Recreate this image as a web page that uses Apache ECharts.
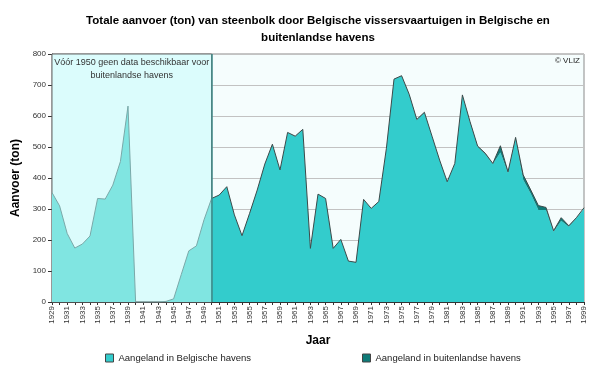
<!DOCTYPE html>
<html><head><meta charset="utf-8">
<script src="https://cdn.jsdelivr.net/npm/echarts@6/dist/echarts.min.js"></script>
<style>html,body{margin:0;padding:0;background:#fff}#c{width:600px;height:368px}</style>
</head><body><div id="c"></div>
<script>
const years = ['1929','1930','1931','1932','1933','1934','1935','1936','1937','1938','1939','1940','1941','1942','1943','1944','1945','1946','1947','1948','1949','1950','1951','1952','1953','1954','1955','1956','1957','1958','1959','1960','1961','1962','1963','1964','1965','1966','1967','1968','1969','1970','1971','1972','1973','1974','1975','1976','1977','1978','1979','1980','1981','1982','1983','1984','1985','1986','1987','1988','1989','1990','1991','1992','1993','1994','1995','1996','1997','1998','1999'];
// Aangeland in Belgische havens (ton), 1929-1999
const belgian = [353,310,221,174,187,213,334,332,377,453,632,0,0,0,0,2,10,88,165,181,265,334,345,372,281,214,286,361,445,507,426,547,533,557,173,348,332,173,202,132,128,331,302,324,496,719,728,668,587,610,535,458,388,447,666,580,501,477,445,482,417,526,394,349,297,297,227,262,243,270,302];
// Aangeland in buitenlandse havens (ton), 1950-1999 (no data before 1950)
const foreignYears = years.slice(21);
const foreign = [0,0,0,0,0,0,0,0,2,0,0,2,0,0,0,2,0,0,0,0,0,0,0,0,0,2,2,2,2,0,0,0,0,2,2,2,3,2,22,3,5,16,12,14,8,3,10,3,2,2];
const yTicks = [0,100,200,300,400,500,600,700,800];
const splitYear = '1950';
const noteText = 'Vóór 1950 geen data beschikbaar voor\nbuitenlandse havens';
const nameBE = 'Aangeland in Belgische havens';
const nameFO = 'Aangeland in buitenlandse havens';

const splitIdx = years.indexOf(splitYear);
const bePre = belgian.map((v,i)=> i<=splitIdx ? v : null);
const bePost = belgian.map((v,i)=> i>=splitIdx ? v : null);
const foFull = years.map(y => { const k = foreignYears.indexOf(y); return k>=0 ? foreign[k] : null; });

const F = 'Liberation Sans, Arial, sans-serif';
const chart = echarts.init(document.getElementById('c'), null, {renderer:'canvas'});
chart.setOption({
  animation:false,
  backgroundColor:'#ffffff',
  textStyle:{fontFamily:F},
  grid:{left:52,right:16,top:54,bottom:66,show:true,backgroundColor:'#f5fdfd',borderColor:'#8a8a8a',borderWidth:1},
  graphic:[
    {type:'text',x:318,y:12,z:10,style:{text:'Totale aanvoer (ton) van steenbolk door Belgische vissersvaartuigen in Belgische en\nbuitenlandse havens',textAlign:'center',font:'bold 11.5px '+F,fill:'#000',lineHeight:17}},
    {type:'text',right:20,top:57,z:10,style:{text:'© VLIZ',font:'8px '+F,fill:'#222'}}
  ],
  legend:[
    {data:[nameBE],left:100,top:348,icon:'rect',itemWidth:8,itemHeight:8,itemGap:3,textStyle:{fontSize:9.5,color:'#222',fontFamily:F},itemStyle:{borderColor:'#444',borderWidth:1}},
    {data:[nameFO],left:357,top:348,icon:'rect',itemWidth:8,itemHeight:8,itemGap:3,textStyle:{fontSize:9.5,color:'#222',fontFamily:F},itemStyle:{borderColor:'#444',borderWidth:1}}
  ],
  xAxis:{type:'category',data:years,boundaryGap:false,
    name:'Jaar',nameLocation:'middle',nameGap:33,nameTextStyle:{fontWeight:'bold',fontSize:12,color:'#000',fontFamily:F},
    axisLine:{lineStyle:{color:'#333'}},
    axisTick:{interval:0,length:3,lineStyle:{color:'#333'}},
    axisLabel:{interval:1,rotate:90,fontSize:8,color:'#333',margin:4,fontFamily:F},
    splitLine:{show:false}},
  yAxis:{type:'value',min:0,max:800,interval:100,
    name:'Aanvoer (ton)',nameLocation:'middle',nameGap:26,nameTextStyle:{fontWeight:'bold',fontSize:12,color:'#000',fontFamily:F},
    axisLine:{show:true,lineStyle:{color:'#333'}},
    axisTick:{show:true,length:4,lineStyle:{color:'#333'}},
    axisLabel:{fontSize:8,color:'#333',margin:6,fontFamily:F,formatter:v=> yTicks.indexOf(v)>=0 ? String(v) : ''},
    splitLine:{lineStyle:{color:'#c2c2c2'}}},
  series:[
    {name:'bg',type:'line',data:years.map(()=>null),z:1,silent:true,symbol:'none',
      markArea:{silent:true,itemStyle:{color:'#dbfcfc',borderColor:'#6a6a6a',borderWidth:1},
        label:{show:true,position:'insideTop',distance:3,formatter:noteText,color:'#333',fontSize:9,lineHeight:13,fontFamily:F},
        data:[[{xAxis:years[0]},{xAxis:splitYear}]]}},
    {name:'Belgische havens (vóór 1950)',type:'line',data:bePre,z:3,symbol:'none',
      itemStyle:{color:'#80e5e1'},lineStyle:{color:'#7aa8a8',width:1},areaStyle:{color:'#80e5e1',opacity:1}},
    {name:nameBE,type:'line',stack:'tot',data:bePost,z:3,symbol:'none',
      itemStyle:{color:'#33cccc'},lineStyle:{width:0},areaStyle:{color:'#33cccc',opacity:1},
      markLine:{silent:true,symbol:'none',label:{show:false},lineStyle:{color:'#3f8a88',width:1.5,type:'solid'},data:[{xAxis:splitYear}]}},
    {name:nameFO,type:'line',stack:'tot',data:foFull,z:4,symbol:'none',
      itemStyle:{color:'#0e7b78'},lineStyle:{color:'#3c4a4a',width:1},areaStyle:{color:'#0e7b78',opacity:1}}
  ]
});
</script></body></html>
